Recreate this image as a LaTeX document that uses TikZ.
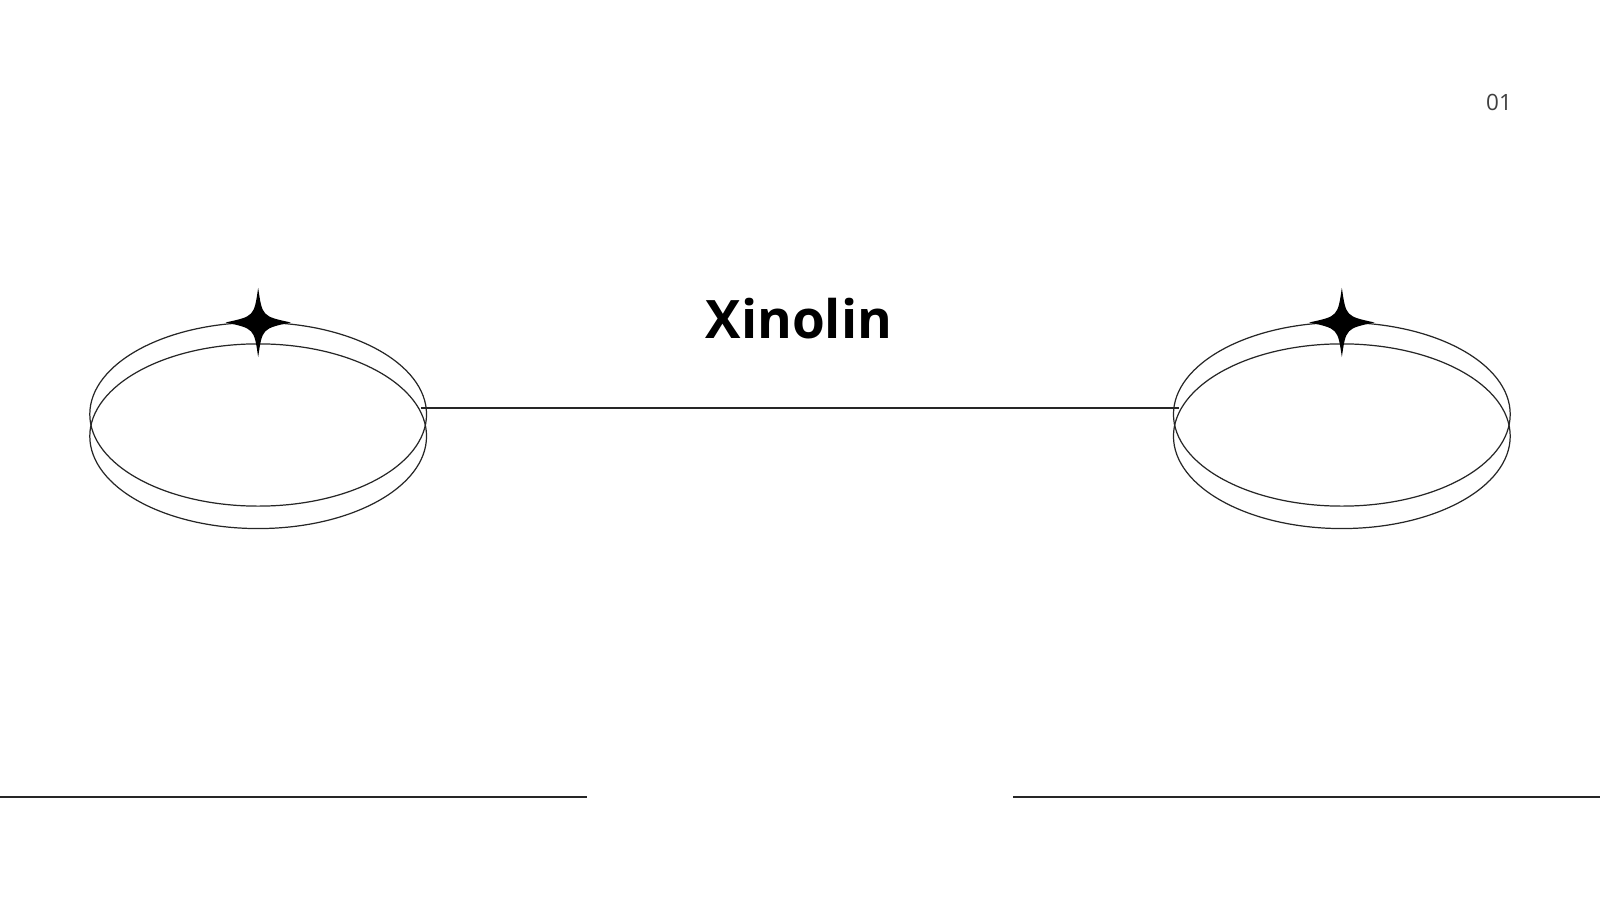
\documentclass[tikz,border=0pt]{standalone}
\usepackage{fontspec}
\setmainfont{Open Sans}
\begin{document}
\begin{tikzpicture}[x=1pt,y=-1pt,
  ring/.style={draw=black!85,line width=1.2pt},
  rule/.style={draw=black!85,line width=1.3pt}]
\useasboundingbox (0,0) rectangle (1568,882);
\newcommand{\starshape}[2]{%
  \fill[black] (#1,#2-34) .. controls (#1+4,#2-6) .. (#1+32,#2)
    .. controls (#1+4,#2+6) .. (#1,#2+34)
    .. controls (#1-4,#2+6) .. (#1-32,#2)
    .. controls (#1-4,#2-6) .. cycle;}
\foreach \cx/\nm in {253/L,1315/R}{
  \draw[ring] (\cx,406) ellipse (165 and 90);
  \draw[ring] (\cx,427.5) ellipse (165 and 90.5);
  \coordinate (\nm) at (\cx,316);
  \starshape{\cx}{316}
}
\coordinate (la) at (413,400);
\coordinate (lb) at (1155,400);
\draw[rule,line width=1.5pt] (la) -- (lb);
\node (title) at (783,312) {\fontsize{52}{60}\selectfont\bfseries Xinolin};
\node[text=black!75] (num) at (1469,100) {\fontsize{22}{26}\selectfont 01};
\coordinate (b1) at (0,781); \coordinate (b2) at (575,781);
\coordinate (b3) at (993,781); \coordinate (b4) at (1568,781);
\draw[rule] (b1) -- (b2);
\draw[rule] (b3) -- (b4);
\end{tikzpicture}
\end{document}
